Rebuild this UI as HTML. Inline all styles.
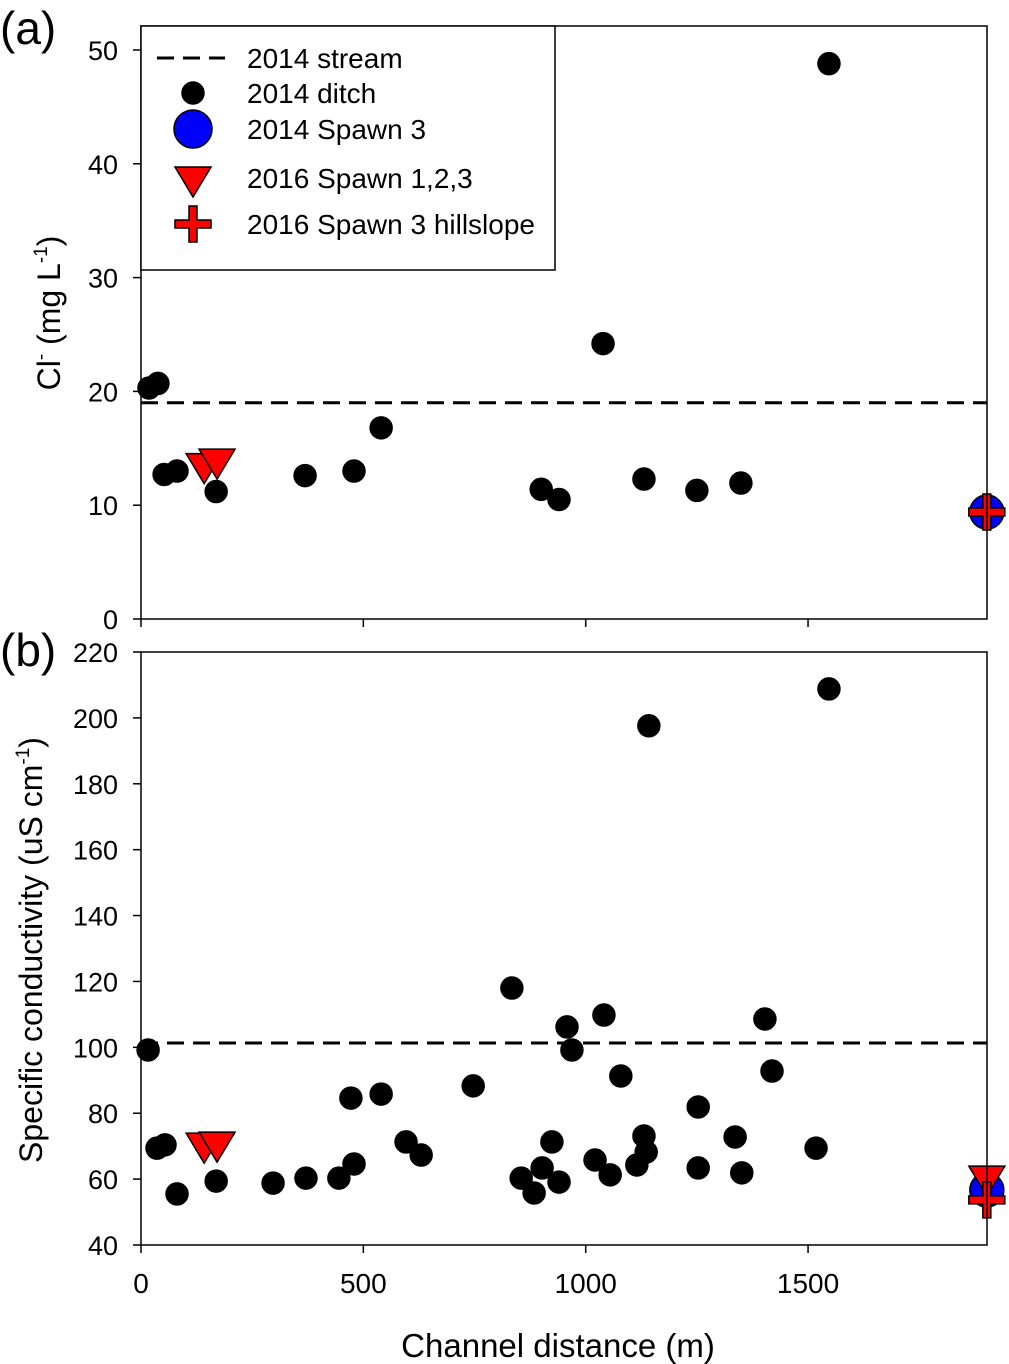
<!DOCTYPE html>
<html><head><meta charset="utf-8"><style>
html,body{margin:0;padding:0;background:#fff}
svg{display:block;font-family:"Liberation Sans",Arial,sans-serif}
</style></head><body>
<svg id="c" width="1009" height="1364" viewBox="0 0 1009 1364"></svg>
<script>
const xTicks=[0,500,1000,1500];
const aTicks=[0,10,20,30,40,50];
const bTicks=[40,60,80,100,120,140,160,180,200,220];
const aDitchX=[18,38,52,81,169,369,479,540,900,940,1039,1131,1250,1349,1547];
const aDitchY=[20.3,20.7,12.7,13.0,11.2,12.6,13.0,16.8,11.4,10.5,24.2,12.3,11.3,11.95,48.8];
const aStream=19.0;
const aSpawn123X=[142,171];
const aSpawn123Y=[13.3,13.7];
const aSpawn3X=[1902], aSpawn3Y=[9.4];
const aHillX=[1902], aHillY=[9.4];
const bDitchX=[16,36,54,81,169,297,371,445,472,479,540,596,630,747,834,855,884,902,924,940,958,969,1021,1041,1055,1079,1115,1131,1136,1142,1253,1253,1336,1351,1403,1419,1518,1547];
const bDitchY=[99.2,69.4,70.4,55.5,59.4,58.8,60.3,60.3,84.6,64.6,85.8,71.3,67.3,88.3,118.0,60.3,55.8,63.4,71.3,59.1,106.2,99.2,65.8,109.8,61.3,91.3,64.3,73.1,68.2,197.6,63.4,81.9,72.8,61.9,108.6,92.8,69.4,208.8];
const bStream=101.3;
const bSpawn123X=[142,171,1902];
const bSpawn123Y=[69.7,70,59.7];
const bSpawn3X=[1902], bSpawn3Y=[56.7];
const bHillX=[1902], bHillY=[53.7];

const NS="http://www.w3.org/2000/svg";
const svg=document.getElementById('c');
function el(t,a,p){const e=document.createElementNS(NS,t);for(const k in a)e.setAttribute(k,a[k]);(p||svg).appendChild(e);return e;}
const X0=141,X1=987;
const xs=v=>X0+v*0.4447;
const panels=[
 {top:26,bot:619,min:0,max:50,ticks:aTicks,name:'a'},
 {top:652,bot:1245,min:40,max:220,ticks:bTicks,name:'b'}
];
panels.forEach(p=>{
 const y0=p.name==='a'?619:1245, y1=p.name==='a'?50:652;
 p.ys=v=>y0-(v-p.min)*(y0-y1)/(p.max-p.min);
});
function tri(g,x,y,nm){const e=el('polygon',{points:`${x-18},${y-14} ${x+18},${y-14} ${x},${y+16}`,fill:'#ff0000',stroke:'#000','stroke-width':1.5},g);}
function circ(g,x,y,r,f,nm){const e=el('circle',{cx:x,cy:y,r:r,fill:f,stroke:'#000','stroke-width':1.5},g);}
function cross(g,x,y,nm){const e=el('path',{d:`M${x-4},${y-18}h8v14h14v8h-14v14h-8v-14h-14v-8h14z`,fill:'#ff0000',stroke:'#000','stroke-width':1.5},g);}

function drawPanel(p,d){
 const g=el('g',{});
 
 
 const sl=el('line',{x1:X0,x2:X1,y1:p.ys(d.stream),y2:p.ys(d.stream),stroke:'#000','stroke-width':3,'stroke-dasharray':'17,9'},g);
 
 
 d.dx.forEach((v,i)=>circ(g,xs(v),p.ys(d.dy[i]),11,'#000','ditch-point'));
 d.s3x.forEach((v,i)=>circ(g,xs(v),p.ys(d.s3y[i]),17,'#0000ff','spawn3-point'));
 d.tx.forEach((v,i)=>tri(g,xs(v),p.ys(d.ty[i]),'spawn123-point'));
 d.hx.forEach((v,i)=>cross(g,xs(v),p.ys(d.hy[i]),'hillslope-point'));
 const f=el('rect',{x:X0,y:p.top,width:X1-X0,height:p.bot-p.top,fill:'none',stroke:'#000','stroke-width':1.5},g);
 
 
 p.ticks.forEach(t=>{
  const y=p.ys(t);
  el('line',{x1:X0-8,x2:X0,y1:y,y2:y,stroke:'#000','stroke-width':1.5},g);
  const tx=el('text',{x:118,y:y+10,'text-anchor':'end','font-size':27},g);
  tx.textContent=t;
  
  
 });
 xTicks.forEach(t=>{el('line',{x1:xs(t),x2:xs(t),y1:p.bot,y2:p.bot+8,stroke:'#000','stroke-width':1.5},g);});
}
drawPanel(panels[0],{stream:aStream,dx:aDitchX,dy:aDitchY,s3x:aSpawn3X,s3y:aSpawn3Y,tx:aSpawn123X,ty:aSpawn123Y,hx:aHillX,hy:aHillY});
drawPanel(panels[1],{stream:bStream,dx:bDitchX,dy:bDitchY,s3x:bSpawn3X,s3y:bSpawn3Y,tx:bSpawn123X,ty:bSpawn123Y,hx:bHillX,hy:bHillY});
xTicks.forEach(t=>{
 const tx=el('text',{x:xs(t),y:1293,'text-anchor':'middle','font-size':28});
 tx.textContent=t;
 
 
});
const lg=el('g',{});


el('rect',{x:141,y:26,width:414,height:244,fill:'#fff',stroke:'#000','stroke-width':1.5},lg);
el('line',{x1:157,x2:225,y1:58,y2:58,stroke:'#000','stroke-width':3,'stroke-dasharray':'17,9'},lg);
circ(lg,193,93,11,'#000','legend-ditch-symbol');
circ(lg,193,129,19,'#0000ff','legend-spawn3-symbol');
tri(lg,193,181,'legend-spawn123-symbol');
cross(lg,193,224,'legend-hillslope-symbol');
[['2014 stream',58],['2014 ditch',93],['2014 Spawn 3',129],['2016 Spawn 1,2,3',178],['2016 Spawn 3 hillslope',224]].forEach(([s,y])=>{
 const t=el('text',{x:247,y:y+10,'font-size':28},lg);
 t.textContent=s;
 
 
});
</script>
<div style="position:absolute;left:0;top:0;width:1009px;height:1364px;pointer-events:none">
<svg width="1009" height="1364" style="position:absolute;left:0;top:0;font-family:'Liberation Sans',Arial,sans-serif">
<text x="0" y="44" font-size="46">(a)</text>
<text x="0" y="666" font-size="46">(b)</text>
<text x="558" y="1357" font-size="33" text-anchor="middle">Channel distance (m)</text>
<text transform="translate(60,313) rotate(-90)" font-size="32" text-anchor="middle">Cl<tspan font-size="19" dy="-13">-</tspan><tspan dy="13"> (mg L</tspan><tspan font-size="19" dy="-13">-1</tspan><tspan dy="13">)</tspan></text>
<text transform="translate(42,950) rotate(-90)" font-size="32" text-anchor="middle">Specific conductivity (uS cm<tspan font-size="19" dy="-13">-1</tspan><tspan dy="13">)</tspan></text>
</svg></div>
</body></html>
